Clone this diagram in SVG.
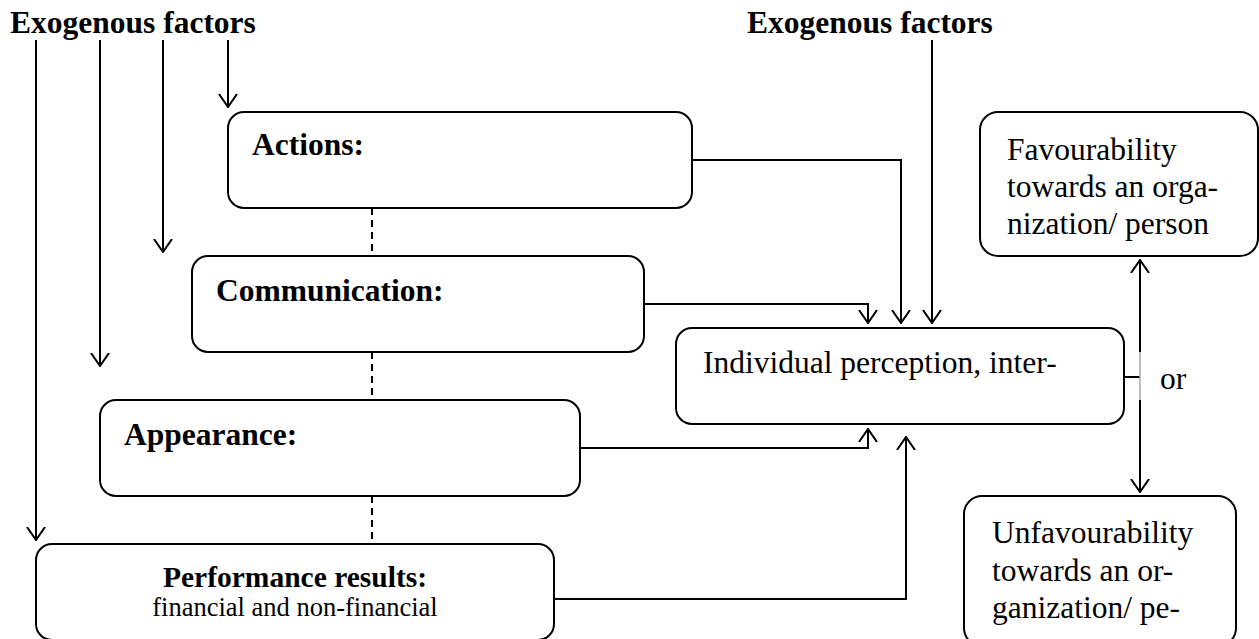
<svg xmlns="http://www.w3.org/2000/svg" width="1259" height="639" viewBox="0 0 1259 639">
<defs>
<style>
.box{fill:#fff;stroke:#000;stroke-width:2}
.ln{fill:none;stroke:#000;stroke-width:2}
.dash{fill:none;stroke:#000;stroke-width:2;stroke-dasharray:7 5}
.b{font-family:"Liberation Serif","Times New Roman",serif;font-weight:bold;font-size:31.5px;fill:#000}
.r{font-family:"Liberation Serif","Times New Roman",serif;font-size:31.5px;fill:#000}
</style>
<marker id="ah" viewBox="0 0 14 20" refX="13" refY="10" markerWidth="14" markerHeight="20" markerUnits="userSpaceOnUse" orient="auto">
<path d="M0,1 L13,10 L0,19" fill="none" stroke="#000" stroke-width="2"/>
</marker>
</defs>
<rect width="1259" height="639" fill="#fff"/>

<g id="exo-left"><text class="b" x="10" y="33">Exogenous factors</text></g>
<g id="exo-right"><text class="b" x="747" y="33">Exogenous factors</text></g>

<g id="actions">
<rect class="box" x="228" y="112" width="464" height="96" rx="16"/>
<text class="b" x="252" y="155">Actions:</text>
</g>
<g id="communication">
<rect class="box" x="192" y="256" width="452" height="96" rx="16"/>
<text class="b" x="216" y="301">Communication:</text>
</g>
<g id="appearance">
<rect class="box" x="100" y="400" width="480" height="96" rx="16"/>
<text class="b" x="124" y="445">Appearance:</text>
</g>
<g id="performance">
<rect class="box" x="36" y="544" width="518" height="96" rx="16"/>
<text class="b" x="295" y="587" text-anchor="middle" style="font-size:29.5px">Performance results:</text>
<text class="r" x="295" y="616" text-anchor="middle" style="font-size:26.5px">financial and non-financial</text>
</g>
<g id="individual">
<rect class="box" x="676" y="328" width="448" height="96" rx="16"/>
<text class="r" x="703" y="373">Individual perception, inter-</text>
</g>
<g id="favourability">
<rect class="box" x="980" y="112" width="278" height="144" rx="18"/>
<text class="r" x="1007" y="160">Favourability</text>
<text class="r" x="1007" y="197">towards an orga-</text>
<text class="r" x="1007" y="234">nization/ person</text>
</g>
<g id="unfavourability">
<rect class="box" x="964" y="496" width="272" height="150" rx="18"/>
<text class="r" x="992" y="543">Unfavourability</text>
<text class="r" x="992" y="581">towards an or-</text>
<text class="r" x="992" y="618">ganization/ pe-</text>
</g>
<g id="or-label"><text class="r" x="1160" y="389">or</text></g>

<g id="connectors">
<path class="ln" d="M36,40 V540" marker-end="url(#ah)"/>
<path class="ln" d="M100,40 V366" marker-end="url(#ah)"/>
<path class="ln" d="M163,40 V252" marker-end="url(#ah)"/>
<path class="ln" d="M228,40 V107" marker-end="url(#ah)"/>
<path class="ln" d="M932,40 V323" marker-end="url(#ah)"/>
<path class="ln" d="M692,160 H901 V323" marker-end="url(#ah)"/>
<path class="ln" d="M644,304 H868 V323" marker-end="url(#ah)"/>
<path class="ln" d="M580,448 H868 V429" marker-end="url(#ah)"/>
<path class="ln" d="M554,599 H906 V437" marker-end="url(#ah)"/>
<path class="dash" d="M372,208 V256"/>
<path class="dash" d="M372,352 V400"/>
<path class="dash" d="M372,496 V544"/>
<path class="ln" d="M1124,377 H1140"/>
<path class="ln" d="M1140,352 V260" marker-end="url(#ah)"/>
<path d="M1140,352 V400" fill="none" stroke="#aaa" stroke-width="1.5"/>
<path class="ln" d="M1140,400 V492" marker-end="url(#ah)"/>
</g>
</svg>
